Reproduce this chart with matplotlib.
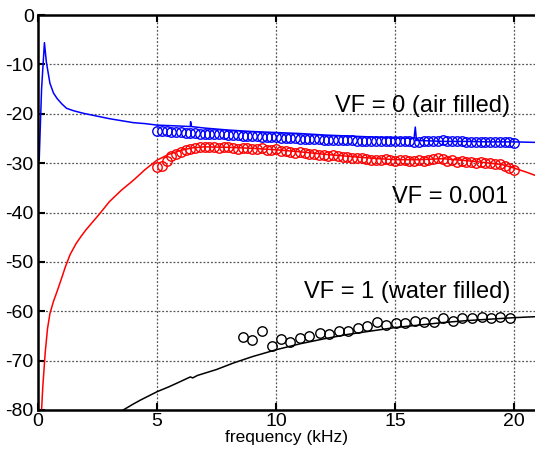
import numpy as np
import matplotlib
matplotlib.use("Agg")
import matplotlib.pyplot as plt

plt.rcParams['font.family'] = ['Liberation Sans', 'DejaVu Sans']
plt.rcParams['axes.unicode_minus'] = False

# model curves (solid lines)
air_f = [0.05, 0.15, 0.27, 0.35, 0.5, 0.65, 0.8, 1.0, 1.2, 1.5, 1.9, 2.3, 2.6, 3.0,
         3.5, 4.0, 4.5, 5.0, 5.5, 6.0, 6.4, 6.41, 6.45, 7.0, 8.0, 9.0, 10.0, 11.0,
         12.0, 13.0, 14.0, 15.0, 15.8, 15.85, 15.9, 16.5, 17.0, 18.0, 19.0, 20.0, 20.9]
air_db = [-29.4, -15.0, -5.6, -9.5, -13.8, -15.8, -16.9, -18.0, -18.9, -19.4, -19.9,
          -20.3, -20.6, -21.0, -21.4, -21.8, -22.0, -22.3, -22.4, -22.5, -22.6, -21.6,
          -22.6, -22.9, -23.3, -23.6, -23.8, -24.0, -24.3, -24.5, -24.7, -24.9, -25.0,
          -22.7, -25.4, -25.5, -25.6, -25.6, -25.7, -25.7, -25.8]

vf001_f = [0.15, 0.2, 0.25, 0.3, 0.4, 0.5, 0.65, 0.8, 1.0, 1.15, 1.35, 1.6, 1.8, 2.0,
           2.3, 2.6, 3.0, 3.5, 4.0, 4.5, 5.0, 5.5, 6.0, 6.5, 7.0, 8.0, 9.0, 10.0, 11.0,
           12.0, 13.0, 14.0, 15.0, 16.0, 17.0, 18.0, 19.0, 19.5, 20.0, 20.5, 20.9]
vf001_db = [-80.0, -75.4, -72.0, -68.5, -63.5, -60.5, -58.0, -56.0, -53.2, -51.0,
            -48.5, -46.3, -44.9, -43.6, -41.9, -40.2, -37.8, -35.5, -33.5, -31.3,
            -29.4, -28.2, -27.4, -26.9, -26.7, -26.8, -27.0, -27.3, -27.7, -28.2,
            -28.6, -29.0, -29.3, -29.3, -29.1, -29.5, -30.0, -30.3, -31.0, -31.8,
            -32.5]

water_f = [3.58, 4.0, 4.3, 5.0, 5.5, 6.0, 6.4, 6.5, 6.7, 7.5, 8.2, 9.0, 10.0, 11.0,
           12.0, 13.0, 14.0, 15.0, 16.0, 17.0, 18.0, 19.0, 20.0, 20.9]
water_db = [-80.0, -78.8, -78.0, -76.3, -75.3, -74.2, -73.3, -73.5, -73.0, -71.8,
            -70.5, -69.2, -67.8, -66.6, -65.6, -64.7, -64.0, -63.3, -62.8, -62.3,
            -61.9, -61.6, -61.3, -61.1]

# measurements (circles)
meas_f = np.linspace(5.0, 20.0, 76)
air_meas = [-23.4, -23.5, -23.5, -23.6, -23.6, -23.7,
            -23.8, -23.8, -23.9, -24.0, -24.0,
            -24.1, -24.1, -24.2, -24.2, -24.3,
            -24.4, -24.4, -24.5, -24.5, -24.6,
            -24.6, -24.7, -24.7, -24.8, -24.8,
            -24.9, -24.9, -25.0, -25.0, -25.1,
            -25.1, -25.2, -25.2, -25.2, -25.3,
            -25.3, -25.3, -25.4, -25.4, -25.4,
            -25.4, -25.5, -25.5, -25.5, -25.5,
            -25.5, -25.6, -25.6, -25.6, -25.6,
            -25.6, -25.6, -25.6, -25.7, -25.7,
            -25.6, -25.6, -25.5, -25.5, -25.4,
            -25.5, -25.5, -25.6, -25.6, -25.7,
            -25.7, -25.7, -25.8, -25.8, -25.7,
            -25.7, -25.8, -25.8, -25.8, -25.9]
vf001_meas = [-30.8, -30.5, -29.5, -28.6, -28.2, -27.8,
              -27.4, -27.2, -27.0, -26.8, -26.8,
              -26.7, -26.8, -26.9, -26.8, -26.8,
              -27.0, -27.2, -27.0, -26.9, -27.1,
              -27.2, -27.0, -27.3, -27.4, -27.2,
              -27.5, -27.6, -27.7, -27.9, -27.8,
              -28.0, -28.2, -28.1, -28.3, -28.4,
              -28.5, -28.4, -28.6, -28.8, -28.7,
              -28.9, -29.0, -28.9, -29.2, -29.3,
              -29.3, -29.4, -29.2, -29.4, -29.5,
              -29.4, -29.3, -29.5, -29.6, -29.3,
              -29.6, -29.4, -29.2, -29.0, -29.2,
              -29.5, -29.4, -29.7, -29.6, -29.8,
              -29.7, -29.9, -29.8, -30.0, -29.9,
              -30.1, -30.2, -30.5, -30.9, -31.4]

water_meas_f = [8.6, 9.0, 9.4, 9.83, 10.2, 10.6, 11.0, 11.4, 11.85, 12.24, 12.66, 13.04,
                13.45, 13.84, 14.25, 14.62, 15.03, 15.4, 15.84, 16.2, 16.64, 17.03,
                17.42, 17.83, 18.24, 18.64, 19.02, 19.42, 19.83]
water_meas = [-65.2, -65.9, -63.9, -67.1, -65.7, -66.3, -65.5, -65.0, -64.4, -64.7,
              -63.9, -63.9, -63.4, -62.9, -62.1, -62.7, -62.3, -62.3, -61.9, -62.2,
              -62.2, -61.4, -61.9, -61.4, -61.4, -61.1, -61.4, -61.1, -61.4]

fig = plt.figure(figsize=(5.35, 4.49), dpi=100)
ax = fig.add_axes([38 / 535, 39 / 449, 1 - 38 / 535, 395 / 449])

ax.plot(air_f, air_db, color='blue', lw=1.1)
ax.plot(vf001_f, vf001_db, color='red', lw=1.1)
ax.plot(water_f, water_db, color='black', lw=1.1)

mk = dict(ls='none', marker='o', ms=6.8, mfc='none', mew=1.0)
ax.plot(meas_f, air_meas, mec='blue', **mk)
ax.plot(meas_f, vf001_meas, mec='red', **mk)
ax.plot(water_meas_f, water_meas, mec='black', **mk)

ax.text(19.83, -18.4, 'VF = 0 (air filled)', ha='right', va='center', fontsize=17)
ax.text(19.75, -36.8, 'VF = 0.001', ha='right', va='center', fontsize=17)
ax.text(19.83, -56.2, 'VF = 1 (water filled)', ha='right', va='center', fontsize=17)

ax.set_xlim(0, 20.88)
ax.set_ylim(-80, 0)
ax.set_xticks([0, 5, 10, 15, 20])
ax.set_yticks(np.arange(-80, 1, 10))
ax.grid(True, color='#555555', ls=(0, (1.5, 1.5)), lw=0.9)
ax.tick_params(direction='in', length=5, width=1.5, labelsize=14, top=True, pad=3)
ax.tick_params(axis='x', pad=2)
for s in ['left', 'top', 'bottom']:
    ax.spines[s].set_linewidth(1.8)
ax.spines['right'].set_visible(False)
ax.set_xlabel('frequency (kHz)', fontsize=12.5, labelpad=0)

fig.savefig('out.png', dpi=100)
